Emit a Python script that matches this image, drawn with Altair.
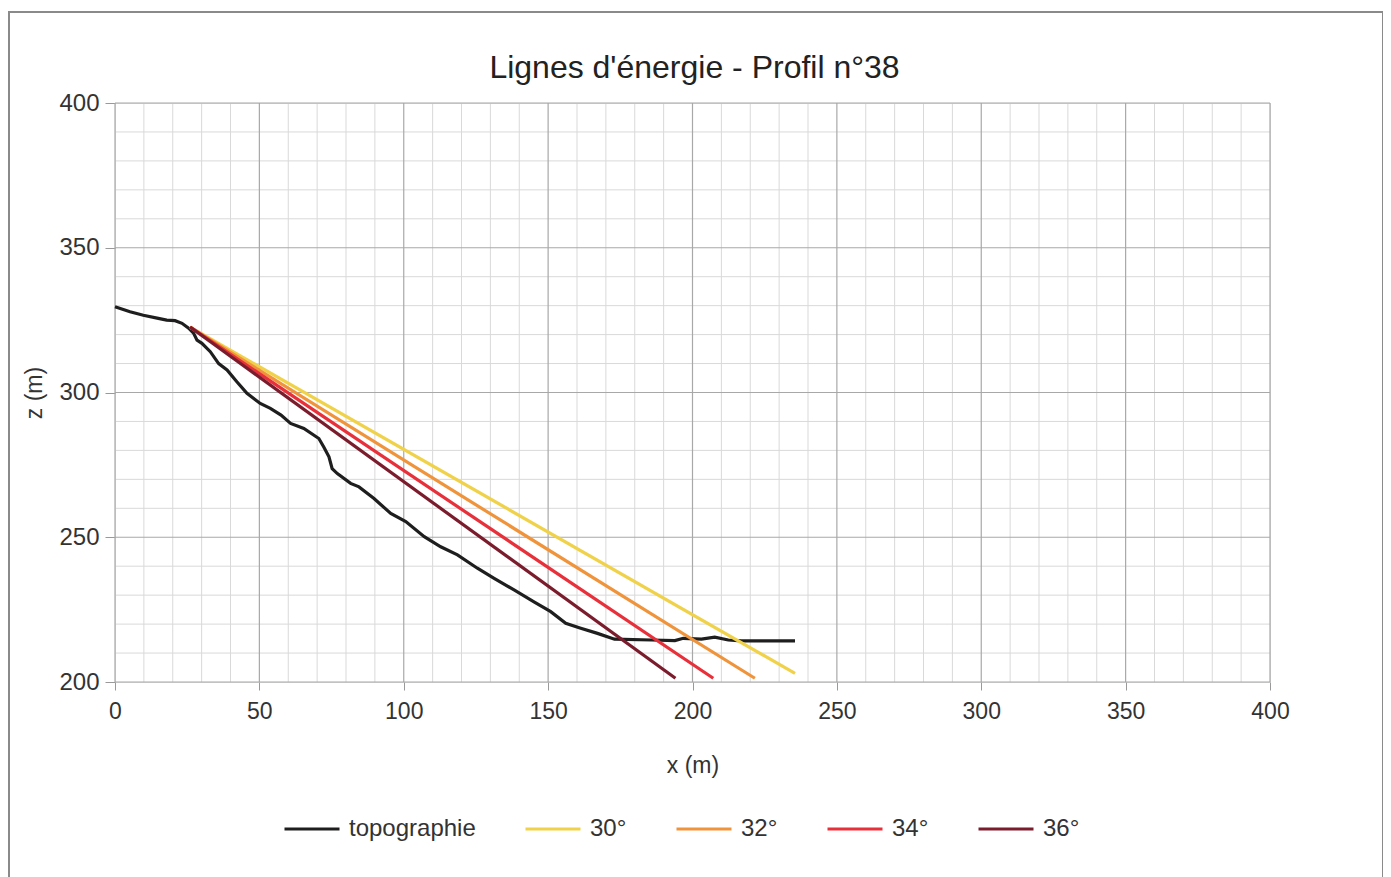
import altair as alt
import pandas as pd

# ---- data ----
topo_x = [0, 5.2, 9.8, 15, 17.9, 20.8, 23.2, 25.5, 27.2, 28.4, 30.1, 33, 35.9, 38.8, 42.2, 45.7,
          50.3, 53.8, 57.5, 60.8, 65.4, 70.6, 72.3, 74.1, 75.2, 77, 81.6, 84.5, 89.7, 95.5, 100.7,
          107.1, 112.8, 118.6, 125.5, 131.3, 138.2, 145.1, 150.9, 156.1, 161.3, 167.1, 173,
          185.8, 193.9, 196.8, 203.1, 207.7, 212.4, 217, 235.5]
topo_z = [329.6, 327.9, 326.7, 325.6, 325, 324.8, 323.9, 322.2, 320.5, 318.1, 317, 314.1, 310, 307.8, 303.7, 299.7,
          296.2, 294.5, 292.2, 289.3, 287.6, 284.1, 281.2, 277.8, 273.7, 272, 268.6, 267.4, 263.4, 258.2, 255.4,
          250.2, 246.7, 243.9, 239.3, 235.8, 231.8, 227.7, 224.3, 220.3, 218.6, 216.8, 214.8,
          214.5, 214.3, 215.1, 214.8, 215.5, 214.5, 214.2, 214.2]

angles = ["30°", "32°", "34°", "36°"]
line_start_x = 26
line_start_z = 322.6
line_end_x = [235.5, 221.6, 207.2, 194.1]
line_end_z = [203.0, 201.3, 201.3, 201.3]

series = ["topographie"] + angles
colors = ["#1e1e1e", "#f0d24a", "#f0943c", "#e8303a", "#7a1c2c"]

x_major = [0, 50, 100, 150, 200, 250, 300, 350, 400]
y_major = [200, 250, 300, 350, 400]
x_minor = [v for v in range(0, 401, 10) if v % 50 != 0]
y_minor = [v for v in range(200, 401, 10) if v % 50 != 0]

# ---- tables ----
rows = []
for i, (xv, zv) in enumerate(zip(topo_x, topo_z)):
    rows.append({"serie": "topographie", "x": xv, "z": zv, "o": i})
for a, ex, ez in zip(angles, line_end_x, line_end_z):
    rows.append({"serie": a, "x": line_start_x, "z": line_start_z, "o": 0})
    rows.append({"serie": a, "x": ex, "z": ez, "o": 1})
df = pd.DataFrame(rows)

FONT = "Liberation Sans"
xs = alt.Scale(domain=[0, 400], nice=False)
ys = alt.Scale(domain=[200, 400], nice=False, zero=False)

xminor = alt.Chart(pd.DataFrame({"v": x_minor})).mark_rule(color="#d9d9d9", strokeWidth=1).encode(
    x=alt.X("v:Q", scale=xs))
yminor = alt.Chart(pd.DataFrame({"v": y_minor})).mark_rule(color="#d9d9d9", strokeWidth=1).encode(
    y=alt.Y("v:Q", scale=ys))
xmaj = alt.Chart(pd.DataFrame({"v": x_major})).mark_rule(color="#a8a8a8", strokeWidth=1.2).encode(
    x=alt.X("v:Q", scale=xs))
ymaj = alt.Chart(pd.DataFrame({"v": y_major})).mark_rule(color="#a8a8a8", strokeWidth=1.2).encode(
    y=alt.Y("v:Q", scale=ys))

lines = alt.Chart(df).mark_line(strokeWidth=3.2).encode(
    x=alt.X("x:Q", scale=xs, title="x (m)",
            axis=alt.Axis(values=x_major, grid=False, domain=False, tickSize=8, tickColor="#999999",
                          labelFontSize=23, labelColor="#333333", labelFont=FONT, labelPadding=10,
                          titleFont=FONT, titleFontSize=23, titleFontWeight="normal", titleColor="#333333",
                          titlePadding=31, labelFlush=False)),
    y=alt.Y("z:Q", scale=ys, title="z (m)",
            axis=alt.Axis(values=y_major, grid=False, domain=False, tickSize=10, tickColor="#999999",
                          labelFontSize=24, labelColor="#333333", labelFont=FONT, labelPadding=6,
                          titleFont=FONT, titleFontSize=23, titleFontWeight="normal", titleColor="#333333",
                          titlePadding=12, labelFlush=False)),
    color=alt.Color("serie:N", scale=alt.Scale(domain=series, range=colors), sort=series,
                    legend=alt.Legend(title=None, orient="none", legendX=168, legendY=697,
                                      direction="horizontal", columns=5, columnPadding=43,
                                      symbolType="stroke", symbolSize=3025, symbolStrokeWidth=3,
                                      labelFontSize=24, labelFont=FONT, labelColor="#333333",
                                      labelOffset=8, padding=0)),
    order="o:Q",
    detail="serie:N",
)

frame = alt.Chart(alt.Data(values=[{}])).mark_rect(fill=None, stroke="#8a8a8a", strokeWidth=2).encode(
    x=alt.value(-106), x2=alt.value(1268), y=alt.value(-91), y2=alt.value(800))

chart = alt.layer(frame, xminor, yminor, xmaj, ymaj, lines).properties(
    width=1155, height=579,
    title=alt.Title("Lignes d'énergie - Profil n°38", font=FONT, fontSize=32, fontWeight="normal",
                    color="#222222", anchor="middle", offset=0, dy=74, dx=2, frame="group"),
    autosize=alt.AutoSizeParams(type="none"),
    padding={"left": 107, "top": 95, "right": 113, "bottom": 200},
).configure_view(stroke=None).configure(background="white")

chart.save("out.html", embed_options={"renderer": "svg", "actions": False})
